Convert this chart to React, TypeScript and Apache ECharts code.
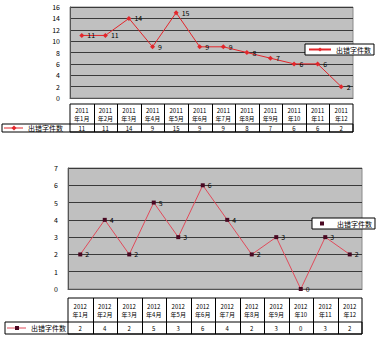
import React, { useEffect, useRef } from "react";
import * as echarts from "echarts";

// 2011 monthly counts
const months2011 = ["2011\n年1月", "2011\n年2月", "2011\n年3月", "2011\n年4月", "2011\n年5月", "2011\n年6月", "2011\n年7月", "2011\n年8月", "2011\n年9月", "2011\n年10", "2011\n年11", "2011\n年12"];
const values2011 = [11, 11, 14, 9, 15, 9, 9, 8, 7, 6, 6, 2];

// 2012 monthly counts
const months2012 = ["2012\n年1月", "2012\n年2月", "2012\n年3月", "2012\n年4月", "2012\n年5月", "2012\n年6月", "2012\n年7月", "2012\n年8月", "2012\n年9月", "2012\n年10", "2012\n年11", "2012\n年12"];
const values2012 = [2, 4, 2, 5, 3, 6, 4, 2, 3, 0, 3, 2];

const seriesLabel = "出错字件数";

const FONT = "'Noto Sans CJK SC', 'DejaVu Sans', sans-serif";

// layout of the two plot areas
const G1 = { left: 70, top: 7, width: 283, height: 91 };
const G2 = { left: 68, top: 168, width: 294, height: 121 };

type TableSpec = {
  left: number;
  width: number;
  headTop: number;
  headBottom: number;
  rowBottom: number;
  rowHeadLeft: number;
  heads: string[];
  values: number[];
  lineColor: string;
  markColor: string;
  markSymbol: "diamond" | "rect";
};

function buildTable(t: TableSpec): any[] {
  const els: any[] = [];
  const n = t.heads.length;
  const cw = t.width / n;
  const right = t.left + t.width;
  const stroke = { stroke: "#000", lineWidth: 1 };
  // outer frame of the header row and values row
  els.push({ type: "rect", shape: { x: t.left, y: t.headTop, width: t.width, height: t.rowBottom - t.headTop }, style: { fill: "#fff", ...stroke } });
  els.push({ type: "rect", shape: { x: t.rowHeadLeft, y: t.headBottom, width: right - t.rowHeadLeft, height: t.rowBottom - t.headBottom }, style: { fill: "none", ...stroke } });
  for (let i = 1; i < n; i++) {
    const x = Math.round(t.left + i * cw) + 0.5;
    els.push({ type: "line", shape: { x1: x, y1: t.headTop, x2: x, y2: t.rowBottom }, style: stroke });
  }
  for (let i = 0; i < n; i++) {
    const cx = t.left + (i + 0.5) * cw;
    els.push({
      type: "text",
      x: cx,
      y: (t.headTop + t.headBottom) / 2,
      style: { text: t.heads[i], fill: "#000", font: `6px ${FONT}`, align: "center", verticalAlign: "middle", lineHeight: 8 },
    });
    els.push({
      type: "text",
      x: cx,
      y: (t.headBottom + t.rowBottom) / 2,
      style: { text: String(t.values[i]), fill: "#000", font: `6px ${FONT}`, align: "center", verticalAlign: "middle" },
    });
  }
  // legend key inside the row header
  const my = (t.headBottom + t.rowBottom) / 2;
  const kx = t.rowHeadLeft + 2;
  els.push({ type: "line", shape: { x1: kx, y1: my, x2: kx + 19, y2: my }, style: { stroke: t.lineColor, lineWidth: 1 } });
  if (t.markSymbol === "diamond") {
    els.push({ type: "polygon", shape: { points: [[kx + 10, my - 2.5], [kx + 12.5, my], [kx + 10, my + 2.5], [kx + 7.5, my]] }, style: { fill: t.markColor } });
  } else {
    els.push({ type: "rect", shape: { x: kx + 8, y: my - 2, width: 4, height: 4 }, style: { fill: t.markColor } });
  }
  els.push({
    type: "text",
    x: kx + 24,
    y: my,
    style: { text: seriesLabel, fill: "#000", font: `7px ${FONT}`, verticalAlign: "middle" },
  });
  return els;
}

export default function App() {
  const ref = useRef<HTMLDivElement>(null);

  useEffect(() => {
    if (!ref.current) return;
    const chart = echarts.init(ref.current, undefined, { renderer: "svg" });

    const gridCommon = { show: true, backgroundColor: "#c0c0c0", borderColor: "#8a8a8a", borderWidth: 1 };
    const yCommon = {
      type: "value" as const,
      axisLine: { show: true, lineStyle: { color: "#555" } },
      axisTick: { show: false },
      axisLabel: { color: "#000", fontSize: 7, fontFamily: FONT, margin: 10 },
      splitLine: { show: true, lineStyle: { color: "#3a3a3a", width: 1 } },
    };
    const xCommon = {
      type: "category" as const,
      boundaryGap: true,
      axisLine: { show: true, lineStyle: { color: "#555" } },
      axisTick: { show: false },
      axisLabel: { show: false },
      splitLine: { show: false },
    };
    const labelCommon = { show: true, position: "right" as const, color: "#000", fontSize: 7, fontFamily: FONT, distance: 3 };
    const legendCommon = {
      orient: "vertical" as const,
      itemGap: 0,
      backgroundColor: "#fff",
      borderColor: "#000",
      borderWidth: 1,
      borderRadius: 0,
      formatter: () => seriesLabel,
      textStyle: { color: "#000", fontSize: 7, fontFamily: FONT },
    };

    chart.setOption({
      animation: false,
      backgroundColor: "#fff",
      grid: [
        { ...gridCommon, ...G1 },
        { ...gridCommon, ...G2 },
      ],
      xAxis: [
        { ...xCommon, gridIndex: 0, data: months2011 },
        { ...xCommon, gridIndex: 1, data: months2012 },
      ],
      yAxis: [
        { ...yCommon, gridIndex: 0, min: 0, max: 16, interval: 2 },
        { ...yCommon, gridIndex: 1, min: 0, max: 7, interval: 1 },
      ],
      legend: [
        {
          ...legendCommon,
          data: ["2011"],
          left: 305,
          top: 44,
          padding: [2, 3, 2, 3],
          itemWidth: 22,
          itemHeight: 5,
        },
        {
          ...legendCommon,
          data: [{ name: "2012", icon: "rect" }],
          left: 312,
          top: 218,
          padding: [2, 3, 2, 8],
          itemWidth: 4,
          itemHeight: 4,
          textStyle: { ...legendCommon.textStyle, padding: [0, 0, 0, 8] },
        },
      ],
      series: [
        {
          name: "2011",
          type: "line",
          xAxisIndex: 0,
          yAxisIndex: 0,
          data: values2011,
          symbol: "diamond",
          symbolSize: 5,
          lineStyle: { color: "#e3262b", width: 1 },
          itemStyle: { color: "#e3262b" },
          label: labelCommon,
        },
        {
          name: "2012",
          type: "line",
          xAxisIndex: 1,
          yAxisIndex: 1,
          data: values2012,
          symbol: "rect",
          symbolSize: 4,
          lineStyle: { color: "#e04a5a", width: 1 },
          itemStyle: { color: "#4a0822" },
          label: labelCommon,
        },
      ],
      graphic: [
        ...buildTable({
          left: G1.left,
          width: G1.width,
          headTop: 104,
          headBottom: 124,
          rowBottom: 132,
          rowHeadLeft: 2,
          heads: months2011,
          values: values2011,
          lineColor: "#e3262b",
          markColor: "#e3262b",
          markSymbol: "diamond",
        }),
        ...buildTable({
          left: G2.left,
          width: G2.width,
          headTop: 298,
          headBottom: 322,
          rowBottom: 334,
          rowHeadLeft: 5,
          heads: months2012,
          values: values2012,
          lineColor: "#e04a5a",
          markColor: "#4a0822",
          markSymbol: "rect",
        }),
      ],
    });

    return () => chart.dispose();
  }, []);

  return <div ref={ref} style={{ position: "absolute", left: 0, top: 0, width: 380, height: 343 }} />;
}
